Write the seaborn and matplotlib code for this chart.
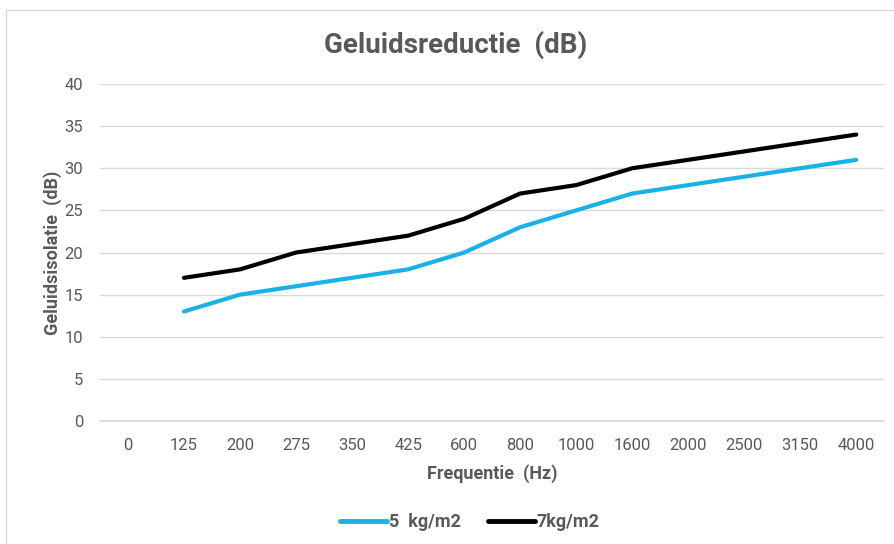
import matplotlib
matplotlib.use("Agg")
import matplotlib.pyplot as plt
import matplotlib.patches as mpatches
import pandas as pd
import seaborn as sns

# frequency categories (Hz), first one carries no measurement
freqs = ["0", "125", "200", "275", "350", "425", "600", "800",
         "1000", "1600", "2000", "2500", "3150", "4000"]
measured = freqs[1:]
iso_5kg = [13, 15, 16, 17, 18, 20, 23, 25, 27, 28, 29, 30, 31]
iso_7kg = [17, 18, 20, 21, 22, 24, 27, 28, 30, 31, 32, 33, 34]
y_ticks = [0, 5, 10, 15, 20, 25, 30, 35, 40]

df = pd.concat([
    pd.DataFrame({"freq": measured, "iso": iso_5kg, "serie": "5  kg/m2"}),
    pd.DataFrame({"freq": measured, "iso": iso_7kg, "serie": "7kg/m2"}),
])
df["pos"] = df["freq"].map(freqs.index)

sns.set_theme(style="white")
plt.rcParams["font.family"] = ["Roboto", "DejaVu Sans"]

fig = plt.figure(figsize=(8.95, 5.44), dpi=100)
ax = fig.add_axes([0.1117, 0.226, 0.8763, 0.6196])

# faint chart frame
fig.patches.append(mpatches.Rectangle((6 / 895, -0.1), 1.0, (544 - 10) / 544 + 0.1,
                                      transform=fig.transFigure, fill=False,
                                      edgecolor="#d9d9d9", linewidth=1))

sns.lineplot(data=df, x="pos", y="iso", hue="serie",
             palette={"5  kg/m2": "#1ab0e8", "7kg/m2": "#000000"},
             linewidth=3, ax=ax, legend=False)

ax.set_xlim(-0.5, len(freqs) - 0.5)
ax.set_ylim(0, 40)
ax.set_xticks(range(len(freqs)), freqs)
ax.set_yticks(y_ticks)
ax.grid(axis="y", color="#d9d9d9", linewidth=1)
for s in ["top", "right", "left"]:
    ax.spines[s].set_visible(False)
ax.spines["bottom"].set_color("#d9d9d9")
ax.tick_params(axis="both", length=0, colors="#595959", labelsize=12)
ax.tick_params(axis="x", pad=12)
ax.tick_params(axis="y", pad=12)
for lbl in ax.get_xticklabels():
    lbl.set_fontstretch("condensed")

ax.set_xlabel("Frequentie  (Hz)", fontsize=13, fontweight="bold",
              color="#595959", labelpad=8)
ax.set_ylabel("Geluidsisolatie  (dB)", fontsize=13, fontweight="bold",
              color="#595959", labelpad=2)
fig.text(0.509, 0.918, "Geluidsreductie  (dB)", ha="center", va="center",
         fontsize=20, fontweight="bold", color="#595959")

handles = [plt.Line2D([], [], color="#1ab0e8", linewidth=3.5),
           plt.Line2D([], [], color="#000000", linewidth=3.5)]
fig.legend(handles, ["5  kg/m2", "7kg/m2"], loc="center",
           bbox_to_anchor=(0.525, 0.04), ncol=2, frameon=False,
           handlelength=2.6, handletextpad=0.1, columnspacing=1.5,
           prop={"size": 13, "weight": "bold"}, labelcolor="#595959")

fig.savefig("out.png", dpi=100)
